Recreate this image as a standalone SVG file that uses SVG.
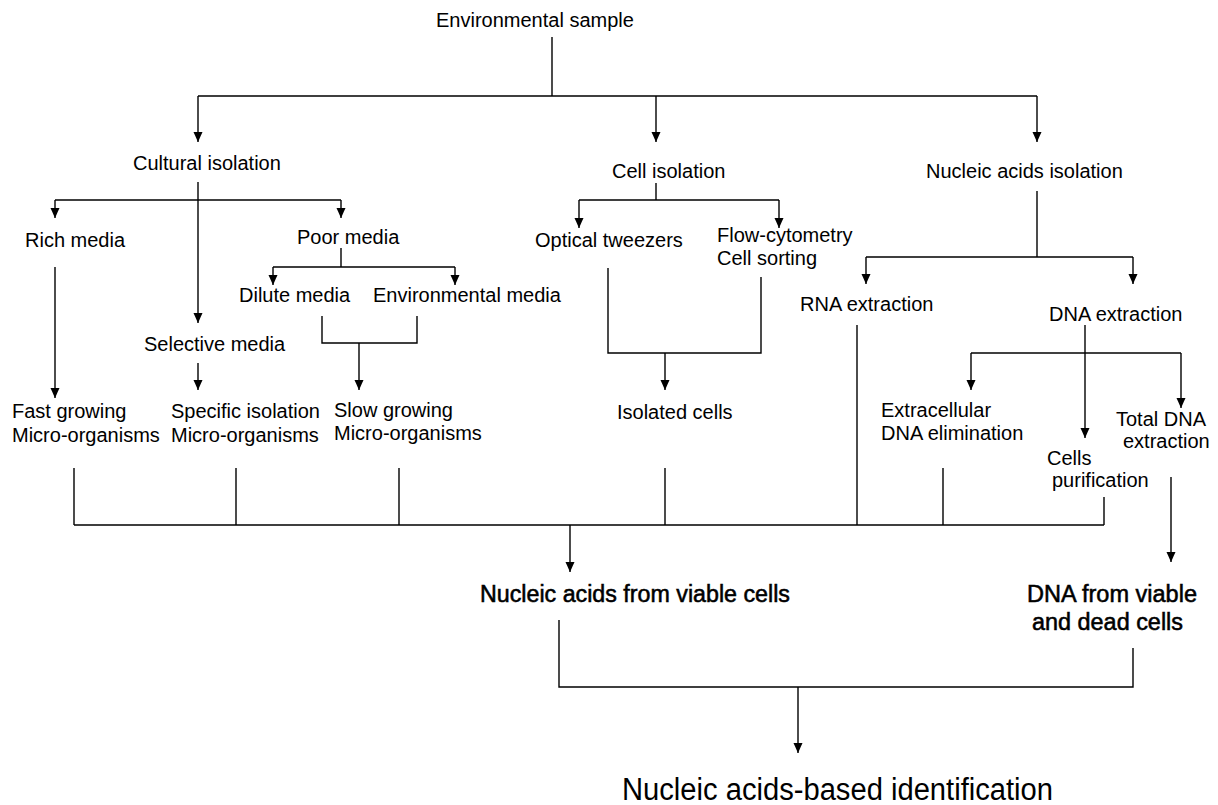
<svg xmlns="http://www.w3.org/2000/svg" width="1218" height="805" viewBox="0 0 1218 805">
<defs>
<style>
text{font-family:"Liberation Sans",Arial,sans-serif;font-size:20px;fill:#000}
.b{font-size:23.5px;stroke:#000;stroke-width:0.55}
.big{font-size:31px}
.c path{fill:none;stroke:#000;stroke-width:1.4}
</style>
<marker id="a" viewBox="-1 -5 12 10" markerWidth="12" markerHeight="10" refX="10" refY="0" orient="auto" markerUnits="userSpaceOnUse">
<path d="M0,-4.5 L10,0 L0,4.5 z" fill="#000"/>
</marker>
</defs>
<rect width="1218" height="805" fill="#fff"/>
<g class="c" id="connectors">
<path d="M552 37 V96 M198 96 H1037"/>
<path d="M198 96 V142" marker-end="url(#a)"/>
<path d="M656 96 V142" marker-end="url(#a)"/>
<path d="M1037 96 V142" marker-end="url(#a)"/>
<path d="M198 182 V323" marker-end="url(#a)"/>
<path d="M55 200 H341"/>
<path d="M55 200 V218" marker-end="url(#a)"/>
<path d="M341 200 V218" marker-end="url(#a)"/>
<path d="M55 267 V398" marker-end="url(#a)"/>
<path d="M341 248 V267 M273 267 H455"/>
<path d="M273 267 V285" marker-end="url(#a)"/>
<path d="M455 267 V285" marker-end="url(#a)"/>
<path d="M322 316 V343 H417 V316"/>
<path d="M359 343 V390" marker-end="url(#a)"/>
<path d="M198 363 V390" marker-end="url(#a)"/>
<path d="M656 183 V200 M579 200 H779"/>
<path d="M579 200 V228" marker-end="url(#a)"/>
<path d="M779 200 V228" marker-end="url(#a)"/>
<path d="M608 268 V353 H761 V277"/>
<path d="M665 353 V390" marker-end="url(#a)"/>
<path d="M1037 191 V257 M866 257 H1133"/>
<path d="M866 257 V284" marker-end="url(#a)"/>
<path d="M1133 257 V284" marker-end="url(#a)"/>
<path d="M857 325 V525"/>
<path d="M1085 325 V438" marker-end="url(#a)"/>
<path d="M971 353 H1181"/>
<path d="M971 353 V390" marker-end="url(#a)"/>
<path d="M1181 353 V408" marker-end="url(#a)"/>
<path d="M1171 477 V562" marker-end="url(#a)"/>
<path d="M74 525 H1104 M74 468 V525 M236 468 V525 M399 468 V525 M665 468 V525 M943 468 V525 M1104 497 V525"/>
<path d="M570 525 V572" marker-end="url(#a)"/>
<path d="M559 620 V687 H1133 V648"/>
<path d="M798 687 V753" marker-end="url(#a)"/>
</g>
<g id="env-sample"><text x="436" y="27">Environmental sample</text></g>
<g id="cultural"><text x="133" y="170">Cultural isolation</text></g>
<g id="cell-isolation"><text x="612" y="178">Cell isolation</text></g>
<g id="na-isolation"><text x="926" y="178">Nucleic acids isolation</text></g>
<g id="rich"><text x="25" y="247">Rich media</text></g>
<g id="poor"><text x="297" y="244">Poor media</text></g>
<g id="optical"><text x="535" y="247">Optical tweezers</text></g>
<g id="flow"><text x="717" y="242">Flow-cytometry</text><text x="717" y="265">Cell sorting</text></g>
<g id="dilute"><text x="239" y="302">Dilute media</text></g>
<g id="envmedia"><text x="373" y="302">Environmental media</text></g>
<g id="selective"><text x="144" y="351">Selective media</text></g>
<g id="rna"><text x="800" y="311">RNA extraction</text></g>
<g id="dna"><text x="1049" y="321">DNA extraction</text></g>
<g id="fast"><text x="12" y="418">Fast growing</text><text x="12" y="442">Micro-organisms</text></g>
<g id="specific"><text x="171" y="418">Specific isolation</text><text x="171" y="442">Micro-organisms</text></g>
<g id="slow"><text x="334" y="417">Slow growing</text><text x="334" y="440">Micro-organisms</text></g>
<g id="isolated"><text x="617" y="419">Isolated cells</text></g>
<g id="extracellular"><text x="881" y="417">Extracellular</text><text x="881" y="440">DNA elimination</text></g>
<g id="total"><text x="1116" y="426">Total DNA</text><text x="1123" y="448">extraction</text></g>
<g id="cells"><text x="1047" y="465">Cells</text><text x="1052" y="487">purification</text></g>
<g id="na-viable"><text class="b" x="480" y="602" textLength="310" lengthAdjust="spacingAndGlyphs">Nucleic acids from viable cells</text></g>
<g id="dna-viable-dead"><text class="b" x="1027" y="602" textLength="170" lengthAdjust="spacingAndGlyphs">DNA from viable</text><text class="b" x="1032" y="630" textLength="151" lengthAdjust="spacingAndGlyphs">and dead cells</text></g>
<g id="identification"><text class="big" x="622" y="800" textLength="431" lengthAdjust="spacingAndGlyphs">Nucleic acids-based identification</text></g>
</svg>
